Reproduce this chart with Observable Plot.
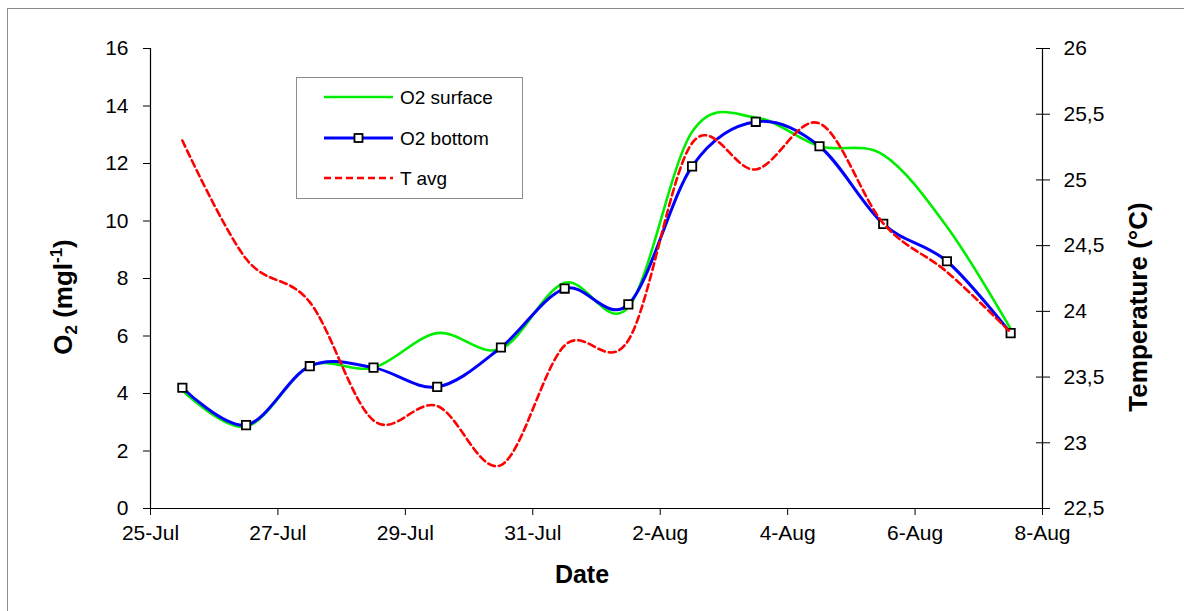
<!DOCTYPE html>
<html>
<head>
<meta charset="utf-8">
<script src="https://cdn.jsdelivr.net/npm/d3@7"></script>
<script src="https://cdn.jsdelivr.net/npm/@observablehq/plot@0.6"></script>
<style>
  html, body { margin: 0; padding: 0; background: white; }
  #chart { width: 1184px; height: 611px; }
</style>
</head>
<body>
<div id="chart"></div>
<script>
// Sample dates (each measured at mid-day, plotted between day ticks)
const sampleDates = ["25-Jul","26-Jul","27-Jul","28-Jul","29-Jul","30-Jul","31-Jul","1-Aug","2-Aug","3-Aug","4-Aug","5-Aug","6-Aug","7-Aug"];
const o2Surface = [4.1, 2.85, 4.95, 4.9, 6.1, 5.55, 7.85, 7.0, 13.1, 13.6, 12.6, 12.3, 9.8, 6.25];
const o2Bottom  = [4.2, 2.9, 4.95, 4.9, 4.23, 5.6, 7.65, 7.1, 11.9, 13.45, 12.6, 9.9, 8.6, 6.1];
const tAvg      = [25.3, 24.4, 24.07, 23.17, 23.28, 22.83, 23.74, 23.78, 25.28, 25.08, 25.43, 24.67, 24.3, 23.84];

// Axis ticks
const xTickPos = [0, 2, 4, 6, 8, 10, 12, 14];
const xTickLabels = ["25-Jul","27-Jul","29-Jul","31-Jul","2-Aug","4-Aug","6-Aug","8-Aug"];
const o2Ticks = [0, 2, 4, 6, 8, 10, 12, 14, 16];
const tempTicks = [22.5, 23, 23.5, 24, 24.5, 25, 25.5, 26];
const tempDomain = [22.5, 26];
const o2Domain = [0, 16];

const legendItems = ["O2 surface", "O2 bottom", "T avg"];

// map temperature onto the primary (O2) scale
const tToY = t => (t - tempDomain[0]) / (tempDomain[1] - tempDomain[0]) * (o2Domain[1] - o2Domain[0]) + o2Domain[0];
const yToT = y => (y - o2Domain[0]) / (o2Domain[1] - o2Domain[0]) * (tempDomain[1] - tempDomain[0]) + tempDomain[0];

const rows = sampleDates.map((d, i) => ({
  date: d, x: i + 0.5, surface: o2Surface[i], bottom: o2Bottom[i], t: tAvg[i], ty: tToY(tAvg[i])
}));

const FONT = "'Liberation Sans', Arial, Helvetica, sans-serif";

const plot = Plot.plot({
  width: 1184,
  height: 611,
  marginLeft: 150,
  marginRight: 142,
  marginTop: 48,
  marginBottom: 103,
  style: { fontFamily: FONT, fontSize: "21px", color: "black", background: "white" },
  x: { domain: [0, 14] },
  y: { domain: o2Domain },
  marks: [
    Plot.axisX({ ticks: xTickPos, tickFormat: d => xTickLabels[xTickPos.indexOf(d)], tickSize: 7, tickPadding: 10, label: null, fontSize: 21 }),
    Plot.axisY({ ticks: o2Ticks, tickSize: 7, tickPadding: 15, label: null, fontSize: 21 }),
    Plot.axisY({ anchor: "right", ticks: tempTicks.map(tToY), tickFormat: v => String(Math.round(yToT(v) * 10) / 10).replace(".", ","), tickSize: 14, dx: -7, tickPadding: 14, label: null, fontSize: 21 }),
    Plot.ruleX([0, 14], { stroke: "black", strokeWidth: 1.2 }),
    Plot.ruleY([0], { stroke: "black", strokeWidth: 1.2 }),
    Plot.line(rows, { x: "x", y: "surface", stroke: "#00ee00", strokeWidth: 2.6, curve: "cardinal" }),
    Plot.line(rows, { x: "x", y: "bottom", stroke: "#0000ff", strokeWidth: 3, curve: "cardinal" }),
    Plot.dot(rows, { x: "x", y: "bottom", symbol: "square", r: 4.7, fill: "white", stroke: "black", strokeWidth: 1.8 }),
    Plot.line(rows, { x: "x", y: "ty", stroke: "#ff0000", strokeWidth: 2.6, strokeDasharray: "7,4", curve: "cardinal" })
  ]
});

const svg = d3.select(plot);

// outer chart border
svg.insert("rect", ":first-child")
  .attr("x", 7.5).attr("y", 8.5).attr("width", 1400).attr("height", 800)
  .attr("fill", "white").attr("stroke", "#8c8c8c").attr("stroke-width", 1);

// Axis titles
const yTitle = svg.append("text")
  .attr("transform", "translate(72,297) rotate(-90)")
  .attr("text-anchor", "middle")
  .attr("font-family", FONT).attr("font-weight", "bold").attr("font-size", 26).attr("fill", "black");
yTitle.append("tspan").text("O");
yTitle.append("tspan").attr("font-size", 17).attr("dy", 5).text("2");
yTitle.append("tspan").attr("dy", -5).text(" (mgl");
yTitle.append("tspan").attr("font-size", 17).attr("dy", -10).text("-1");
yTitle.append("tspan").attr("dy", 10).text(")");

svg.append("text")
  .attr("transform", "translate(1147,307) rotate(-90)")
  .attr("text-anchor", "middle")
  .attr("font-family", FONT).attr("font-weight", "bold").attr("font-size", 26).attr("fill", "black")
  .text("Temperature (°C)");

svg.append("text")
  .attr("x", 582).attr("y", 583)
  .attr("text-anchor", "middle")
  .attr("font-family", FONT).attr("font-weight", "bold").attr("font-size", 25).attr("fill", "black")
  .text("Date");

// Legend
const lg = svg.append("g").attr("text-anchor", "start");
lg.append("rect").attr("x", 296.5).attr("y", 77.5).attr("width", 226).attr("height", 121)
  .attr("fill", "white").attr("stroke", "#8c8c8c").attr("stroke-width", 1);
const styles = [
  { stroke: "#00ee00", dash: null, w: 2.6, marker: false },
  { stroke: "#0000ff", dash: null, w: 3, marker: true },
  { stroke: "#ff0000", dash: "7,4", w: 2.6, marker: false }
];
const ly = [97, 138, 178];
legendItems.forEach((name, i) => {
  const s = styles[i];
  const ln = lg.append("line").attr("x1", 324).attr("x2", 393).attr("y1", ly[i]).attr("y2", ly[i])
    .attr("stroke", s.stroke).attr("stroke-width", s.w);
  if (s.dash) ln.attr("stroke-dasharray", s.dash);
  if (s.marker) {
    lg.append("rect").attr("x", 358.5 - 4).attr("y", ly[i] - 4).attr("width", 8).attr("height", 8)
      .attr("fill", "white").attr("stroke", "black").attr("stroke-width", 1.8);
  }
  lg.append("text").attr("x", 400).attr("y", ly[i]).attr("dy", "0.35em")
    .attr("text-anchor", "start")
    .attr("font-family", FONT).attr("font-size", 19).attr("fill", "black").text(name);
});

document.getElementById("chart").appendChild(plot);
</script>
</body>
</html>
